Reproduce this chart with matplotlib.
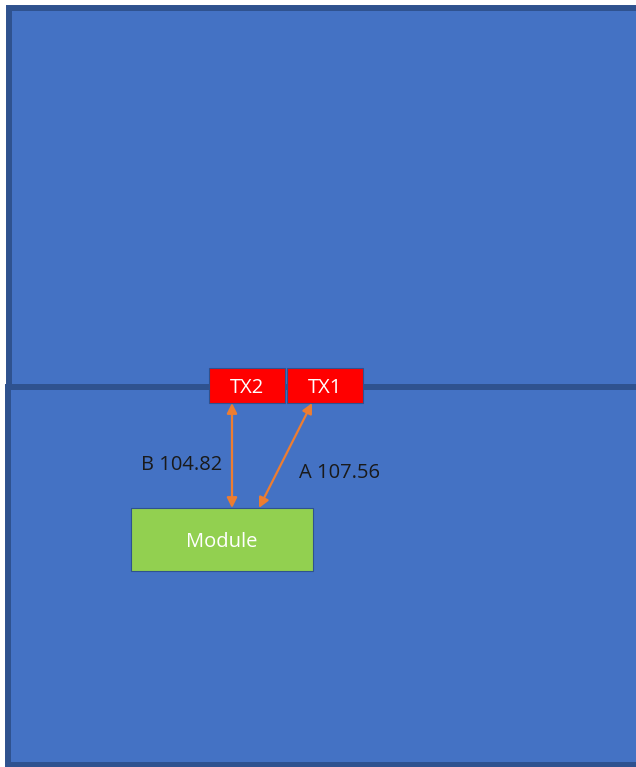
import matplotlib.pyplot as plt
from matplotlib.patches import Rectangle

# diagram content
tx_names = ['TX2', 'TX1']
link_names = ['B', 'A']
link_dist = [104.82, 107.56]
module_name = 'Module'

room_fill = '#4472C4'
room_edge = '#2F528F'
tx_fill = '#FF0000'
module_fill = '#92D050'
arrow_col = '#ED7D31'

fig = plt.figure(figsize=(6.36, 7.67), dpi=100)
ax = fig.add_axes([0, 0, 1, 1])
ax.set_xlim(0, 636)
ax.set_ylim(767, 0)
ax.axis('off')

# two rooms
ax.add_patch(Rectangle((9, 8), 700, 380, facecolor=room_fill, edgecolor=room_edge, lw=4.3))
ax.add_patch(Rectangle((7.5, 387), 700, 378, facecolor=room_fill, edgecolor=room_edge, lw=4.3))

# transmitters
tx_x = [209, 287]
for name, x in zip(tx_names, tx_x):
    ax.add_patch(Rectangle((x, 368), 76, 35, facecolor=tx_fill, edgecolor=room_edge, lw=0.8))
    ax.text(x + 38, 388, name, color='white', fontsize=14.5, ha='center', va='center',
            family='Open Sans')

# module
ax.add_patch(Rectangle((131, 508), 182, 63, facecolor=module_fill, edgecolor=room_edge, lw=0.8))
ax.text(222, 542, module_name, color='white', fontsize=14.5, ha='center', va='center',
        family='Open Sans')

# links
starts = [(232, 403), (312, 403)]
ends = [(232, 508), (259, 508)]
lab_pos = [(141, 465), (299, 473)]
for s, e, n, d, p in zip(starts, ends, link_names, link_dist, lab_pos):
    ax.annotate('', xy=e, xytext=s,
                arrowprops=dict(arrowstyle='<|-|>,head_length=0.6,head_width=0.3',
                                color=arrow_col, lw=1.6, shrinkA=0, shrinkB=0))
    ax.text(p[0], p[1], f'{n} {d:.2f}', color='#1a1a1a', fontsize=14.5, ha='left', va='center',
            family='Open Sans')

fig.savefig('out.png', dpi=100, facecolor='white')
